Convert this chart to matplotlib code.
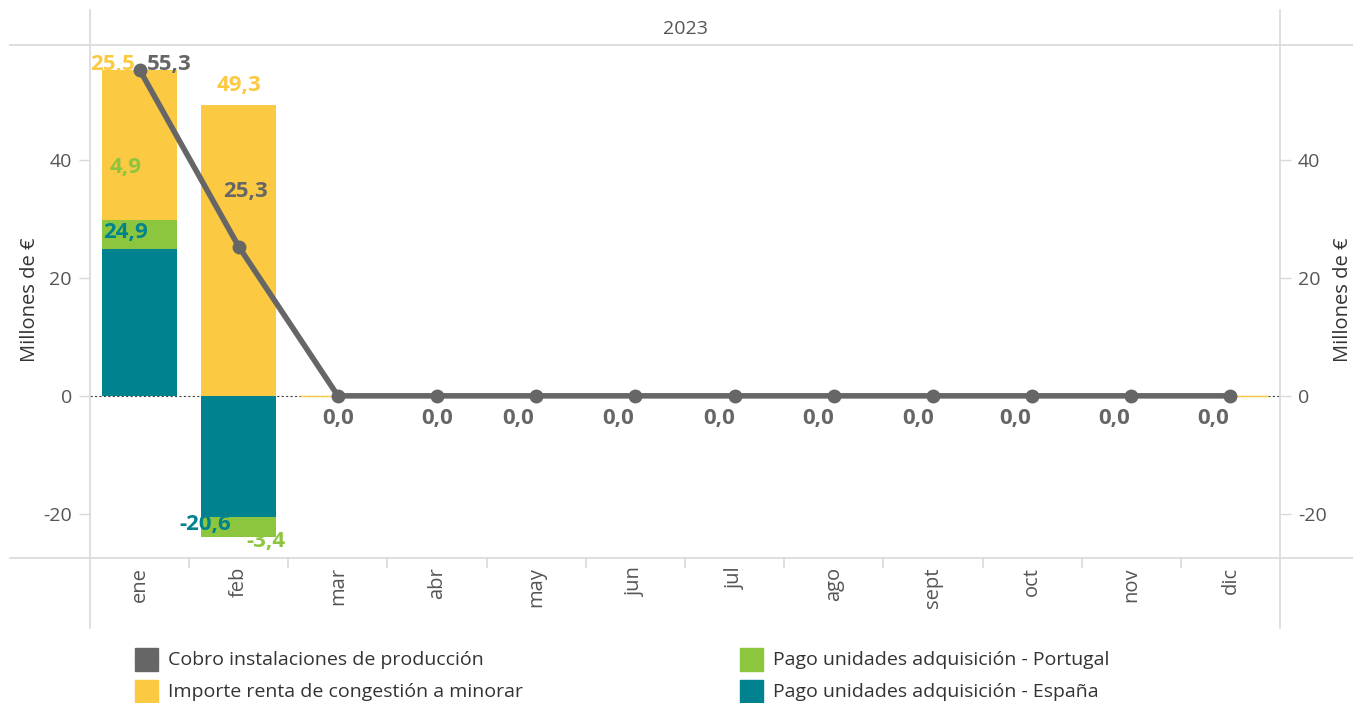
import matplotlib
matplotlib.use('Agg')
import matplotlib.pyplot as plt
from matplotlib.lines import Line2D
from matplotlib.patches import Rectangle
import numpy as np

# ---- data ----
months = ['ene', 'feb', 'mar', 'abr', 'may', 'jun', 'jul', 'ago', 'sept', 'oct', 'nov', 'dic']
espana = [24.9, -20.6, 0, 0, 0, 0, 0, 0, 0, 0, 0, 0]
portugal = [4.9, -3.4, 0, 0, 0, 0, 0, 0, 0, 0, 0, 0]
renta = [25.5, 49.3, 0, 0, 0, 0, 0, 0, 0, 0, 0, 0]
cobro = [55.3, 25.3, 0, 0, 0, 0, 0, 0, 0, 0, 0, 0]
year = '2023'
y_label = 'Millones de €'
series_names = ['Cobro instalaciones de producción', 'Importe renta de congestión a minorar',
                'Pago unidades adquisición - Portugal', 'Pago unidades adquisición - España']

C_GRAY = '#666666'
C_YEL = '#FCC943'
C_GRN = '#8CC63F'
C_TEAL = '#00828F'
C_TXT = '#555555'
C_RULE = '#D9D9D9'

W, H = 1353, 703
plt.rcParams['font.family'] = ['Open Sans', 'DejaVu Sans']

fig = plt.figure(figsize=(W / 100, H / 100), dpi=100)


def fx(px):
    return px / W


def fy(py):
    return 1 - py / H


L, R, T, B = 90, 1280, 45, 558
ax = fig.add_axes([fx(L), fy(B), fx(R - L), fy(T) - fy(B)])
ax2 = ax.twinx()

x = np.arange(len(months))
esp = np.array(espana)
por = np.array(portugal)
ren = np.array(renta)
bw = 0.76

# stacked bars: España from 0, Portugal after, renta on top (positive side)
ax.bar(x, esp, bw, color=C_TEAL, zorder=2)
por_base = esp
ax.bar(x, por, bw, bottom=por_base, color=C_GRN, zorder=2)
ren_base = np.where(esp > 0, esp + por, 0)
ax.bar(x, ren, bw, bottom=ren_base, color=C_YEL, zorder=2,
       edgecolor=[C_YEL if v == 0 else 'none' for v in ren], linewidth=1)

ax.axhline(0, color='#444444', lw=0.8, ls=(0, (2, 2)), zorder=1)

ax.plot(x, cobro, color=C_GRAY, lw=4, marker='o', ms=9, zorder=4, solid_capstyle='round')

ax.set_xlim(-0.5, len(months) - 0.5)
ax.set_ylim(-27.5, 59.5)
ax2.set_ylim(-27.5, 59.5)
ticks = [-20, 0, 20, 40]
for a in (ax, ax2):
    a.set_yticks(ticks)
    a.set_yticklabels([str(t) for t in ticks])
    a.tick_params(axis='y', length=8, width=1, color=C_RULE, labelsize=14, labelcolor=C_TXT, pad=5)
    for s in a.spines.values():
        s.set_visible(False)
ax.set_xticks([])
fig.text(fx(30), fy(300), y_label, rotation=90, ha='center', va='center', fontsize=14.5, color='#333333')
fig.text(fx(1343), fy(300), y_label, rotation=90, ha='center', va='center', fontsize=14.5, color='#333333')

# ---- data labels ----
fmt = lambda v: f'{v:.1f}'.replace('.', ',')
lab_kw = dict(textcoords='offset pixels', ha='center', va='center', fontsize=16,
              fontweight='bold', zorder=6)
# ene
ax.annotate(fmt(renta[0]), (0, ren_base[0] + ren[0]), xytext=(-27, 5), color=C_YEL, **lab_kw)
ax.annotate(fmt(cobro[0]), (0, cobro[0]), xytext=(30, 5), color=C_GRAY, **lab_kw)
ax.annotate(fmt(portugal[0]), (0, esp[0] + por[0] / 2), xytext=(-14, 67), color=C_GRN, **lab_kw)
ax.annotate(fmt(espana[0]), (0, esp[0] / 2), xytext=(-14, 90), color=C_TEAL, **lab_kw)
# feb
ax.annotate(fmt(renta[1]), (1, ren[1]), xytext=(0, 20), color=C_YEL, **lab_kw)
ax.annotate(fmt(cobro[1]), (1, cobro[1]), xytext=(7, 55), color=C_GRAY, **lab_kw)
ax.annotate(fmt(espana[1]), (1, esp[1]), xytext=(-33, -7), color=C_TEAL, **lab_kw)
ax.annotate(fmt(portugal[1]), (1, esp[1] + por[1]), xytext=(27, -4), color=C_GRN, **lab_kw)
# zero months
zero_dx = [0, 0, -18, -17, -15, -16, -15, -17, -17, -17]
for i, dx in zip(range(2, 12), zero_dx):
    ax.annotate(fmt(cobro[i]), (i, cobro[i]), xytext=(dx, -23), color=C_GRAY, **lab_kw)


# ---- frame rules (Tableau style) ----
def hline(py, x0, x1):
    fig.add_artist(Line2D([fx(x0), fx(x1)], [fy(py), fy(py)], color=C_RULE, lw=1.2))


def vline(px, y0, y1):
    fig.add_artist(Line2D([fx(px), fx(px)], [fy(y0), fy(y1)], color=C_RULE, lw=1.2))


hline(T, 10, W)
hline(B, 10, W)
vline(L, 10, 628)
vline(R, 10, 628)
fig.text(fx((L + R) / 2), fy(29), year, ha='center', va='center', fontsize=14, color=C_TXT)

# month labels and separators
for i, m in enumerate(months):
    cx = L + (i + 0.5) * (R - L) / len(months)
    fig.text(fx(cx), fy(567), m, rotation=90, ha='center', va='top', fontsize=14.5, color=C_TXT)
    if i > 0:
        sx = L + i * (R - L) / len(months)
        vline(sx, B, B + 9)

# ---- legend ----
leg_colors = [C_GRAY, C_YEL, C_GRN, C_TEAL]
for k, (name, col) in enumerate(zip(series_names, leg_colors)):
    cx0 = 135 if k < 2 else 740
    cy = 660 if k % 2 == 0 else 692
    fig.add_artist(Rectangle((fx(cx0), fy(cy + 11)), fx(23), fy(cy - 12) - fy(cy + 11),
                             transform=fig.transFigure, color=col))
    fig.text(fx(cx0 + 33), fy(cy), name, ha='left', va='center', fontsize=14, color='#333333')

fig.savefig('out.png', dpi=100)
